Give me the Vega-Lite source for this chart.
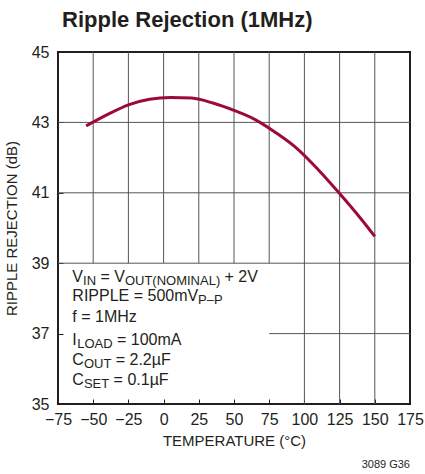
{
  "$schema": "https://vega.github.io/schema/vega-lite/v6.json",
  "autosize": "none",
  "width": 352,
  "height": 352,
  "padding": {"left": 58, "top": 52, "right": 15, "bottom": 70},
  "background": "white",
  "config": {
    "font": "Liberation Sans, sans-serif",
    "view": {"stroke": "#231f20", "strokeWidth": 2},
    "axis": {
      "grid": false,
      "domain": false,
      "ticks": true,
      "tickSize": -5,
      "tickColor": "#231f20",
      "tickWidth": 1,
      "labelFont": "Liberation Sans, sans-serif",
      "labelFontSize": 16,
      "labelColor": "#231f20",
      "labelOverlap": false,
      "labelFlush": false,
      "labelBound": false,
      "titleFont": "Liberation Sans, sans-serif",
      "titleFontSize": 15,
      "titleFontWeight": "normal",
      "titleColor": "#231f20"
    }
  },
  "title": {
    "text": "Ripple Rejection (1MHz)",
    "anchor": "start",
    "frame": "group",
    "font": "Liberation Sans, sans-serif",
    "fontSize": 22,
    "fontWeight": "bold",
    "color": "#231f20",
    "dx": 4,
    "offset": 12
  },
  "datasets": {
    "curve": [
      {"t": -55, "rr": 42.9},
      {"t": -40, "rr": 43.22},
      {"t": -25, "rr": 43.5},
      {"t": -10, "rr": 43.66},
      {"t": 5, "rr": 43.71},
      {"t": 20, "rr": 43.69},
      {"t": 35, "rr": 43.55},
      {"t": 50, "rr": 43.34},
      {"t": 65, "rr": 43.08},
      {"t": 80, "rr": 42.7},
      {"t": 95, "rr": 42.25},
      {"t": 110, "rr": 41.65},
      {"t": 125, "rr": 40.98},
      {"t": 140, "rr": 40.27},
      {"t": 150, "rr": 39.76}
    ],
    "gridv": [
      {"t": -50, "lo": 39, "hi": 45},
      {"t": -25, "lo": 39, "hi": 45},
      {"t": 0, "lo": 39, "hi": 45},
      {"t": 25, "lo": 39, "hi": 45},
      {"t": 50, "lo": 39, "hi": 45},
      {"t": 75, "lo": 39, "hi": 45},
      {"t": 100, "lo": 35, "hi": 45},
      {"t": 125, "lo": 35, "hi": 45},
      {"t": 150, "lo": 35, "hi": 45}
    ],
    "gridh": [
      {"rr": 43, "lo": -75, "hi": 175},
      {"rr": 41, "lo": -75, "hi": 175},
      {"rr": 39, "lo": -75, "hi": 175},
      {"rr": 37, "lo": 75, "hi": 175}
    ],
    "notes": [
      {"t": -64.8, "rr": 38.62, "txt": "V", "sub": false},
      {"t": -57.2, "rr": 38.62, "txt": "IN", "sub": true},
      {"t": -44.85, "rr": 38.62, "txt": "= V", "sub": false},
      {"t": -27.5, "rr": 38.62, "txt": "OUT(NOMINAL)", "sub": true},
      {"t": 43.3, "rr": 38.62, "txt": "+ 2V", "sub": false},
      {"t": -64.8, "rr": 38.08, "txt": "RIPPLE = 500mV", "sub": false},
      {"t": 24.5, "rr": 38.08, "txt": "P–P", "sub": true},
      {"t": -64.8, "rr": 37.48, "txt": "f = 1MHz", "sub": false},
      {"t": -64.8, "rr": 36.83, "txt": "I", "sub": false},
      {"t": -61.4, "rr": 36.83, "txt": "LOAD", "sub": true},
      {"t": -33.1, "rr": 36.83, "txt": "= 100mA", "sub": false},
      {"t": -64.8, "rr": 36.26, "txt": "C", "sub": false},
      {"t": -56.6, "rr": 36.26, "txt": "OUT", "sub": true},
      {"t": -34.0, "rr": 36.26, "txt": "= 2.2µF", "sub": false},
      {"t": -64.8, "rr": 35.69, "txt": "C", "sub": false},
      {"t": -56.6, "rr": 35.69, "txt": "SET", "sub": true},
      {"t": -35.5, "rr": 35.69, "txt": "= 0.1µF", "sub": false}
    ],
    "code": [
      {"t": 175, "rr": 33.28, "txt": "3089 G36"}
    ]
  },
  "encoding": {
    "x": {
      "field": "t",
      "type": "quantitative",
      "scale": {"domain": [-75, 175], "nice": false, "zero": false},
      "axis": {
        "title": "TEMPERATURE (°C)",
        "values": [-75, -50, -25, 0, 25, 50, 75, 100, 125, 150, 175],
        "labelPadding": 12,
        "titlePadding": 6
      }
    },
    "y": {
      "field": "rr",
      "type": "quantitative",
      "scale": {"domain": [35, 45], "nice": false, "zero": false},
      "axis": {
        "title": "RIPPLE REJECTION (dB)",
        "values": [35, 37, 39, 41, 43, 45],
        "labelPadding": 14,
        "titlePadding": 12
      }
    }
  },
  "layer": [
    {
      "data": {"name": "gridv"},
      "mark": {"type": "rule", "color": "#555555", "strokeWidth": 1},
      "encoding": {
        "y": {"field": "lo", "type": "quantitative"},
        "y2": {"field": "hi"}
      }
    },
    {
      "data": {"name": "gridh"},
      "mark": {"type": "rule", "color": "#555555", "strokeWidth": 1},
      "encoding": {
        "x": {"field": "lo", "type": "quantitative"},
        "x2": {"field": "hi"}
      }
    },
    {
      "data": {"name": "curve"},
      "mark": {"type": "line", "color": "#9b0b36", "strokeWidth": 3, "interpolate": "monotone"}
    },
    {
      "data": {"name": "notes"},
      "transform": [{"filter": "!datum.sub"}],
      "mark": {"type": "text", "align": "left", "baseline": "middle", "fontSize": 16, "color": "#231f20"},
      "encoding": {"text": {"field": "txt"}}
    },
    {
      "data": {"name": "notes"},
      "transform": [{"filter": "datum.sub"}],
      "mark": {"type": "text", "align": "left", "baseline": "middle", "fontSize": 13, "dy": 4, "color": "#231f20"},
      "encoding": {"text": {"field": "txt"}}
    },
    {
      "data": {"name": "code"},
      "mark": {"type": "text", "align": "right", "baseline": "middle", "fontSize": 11, "color": "#231f20"},
      "encoding": {"text": {"field": "txt"}}
    }
  ]
}
